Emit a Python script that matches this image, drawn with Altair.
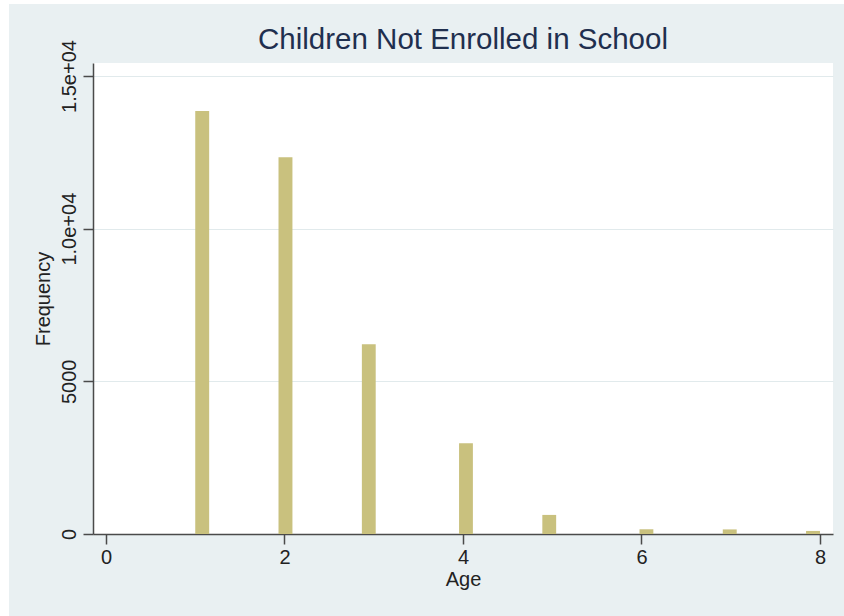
import altair as alt
import pandas as pd

# Histogram bins (45 bins over ages 1..8; only non-empty bins listed)
bin_lo = [1.000, 1.933, 2.867, 3.956, 4.889, 5.978, 6.911, 7.844]
bin_hi = [1.156, 2.089, 3.022, 4.111, 5.044, 6.133, 7.067, 8.000]
counts = [13850, 12340, 6215, 2970, 625, 155, 150, 100]

x_ticks = [0, 2, 4, 6, 8]
y_ticks = [0, 5000, 10000, 15000]
y_tick_labels = ["0", "5000", "1.0e+04", "1.5e+04"]

df = pd.DataFrame({"lo": bin_lo, "hi": bin_hi, "n": counts})

BG = "#e9f0f2"
BAR = "#c9c17e"
AXIS = "#4a4a4a"
FONT = "Liberation Sans"

W, H = 740, 471
PAD = {"left": 93, "top": 63, "right": 11, "bottom": 82}

y_label_expr = " : ".join(
    f"datum.value == {v} ? '{t}'" for v, t in zip(y_ticks, y_tick_labels)
) + " : ''"

x_scale = alt.Scale(domain=[-0.1457, 8.146], nice=False, zero=False)
y_scale = alt.Scale(domain=[0, 15426], nice=False)

bars = alt.Chart(df).mark_rect(color=BAR).encode(
    x=alt.X(
        "lo:Q",
        scale=x_scale,
        title="Age",
        axis=alt.Axis(
            values=x_ticks,
            grid=False,
            domainColor=AXIS,
            domainWidth=1.5,
            tickColor=AXIS,
            tickWidth=1.5,
            tickSize=10,
            labelFontSize=20,
            labelPadding=3,
            labelColor="#222222",
            labelFont=FONT,
            titleFont=FONT,
            titleFontSize=20,
            titleFontWeight="normal",
            titleColor="#222222",
            titlePadding=2,
        ),
    ),
    x2="hi:Q",
    y=alt.Y(
        "n:Q",
        scale=y_scale,
        title="Frequency",
        axis=alt.Axis(
            values=y_ticks,
            labelExpr=y_label_expr,
            grid=True,
            gridColor="#e1eaec",
            gridWidth=1.2,
            domainColor=AXIS,
            domainWidth=1.5,
            tickColor=AXIS,
            tickWidth=1.5,
            tickSize=10,
            labelAngle=270,
            labelAlign="center",
            labelBaseline="alphabetic",
            labelFontSize=20,
            labelPadding=8,
            labelColor="#222222",
            labelFont=FONT,
            titleFont=FONT,
            titleFontSize=20,
            titleFontWeight="normal",
            titleColor="#222222",
            titlePadding=6,
        ),
    ),
    y2=alt.datum(0),
)

# white page margin strips along the left and top edges
margin_left = alt.Chart(df).mark_rect(color="white", clip=False).encode(
    x=alt.value(-PAD["left"]), x2=alt.value(-84),
    y=alt.value(-PAD["top"]), y2=alt.value(H + PAD["bottom"]),
)
margin_top = alt.Chart(df).mark_rect(color="white", clip=False).encode(
    x=alt.value(-PAD["left"]), x2=alt.value(W + PAD["right"]),
    y=alt.value(-PAD["top"]), y2=alt.value(-59),
)

chart = (
    alt.layer(bars, margin_left, margin_top)
    .properties(
        width=W,
        height=H,
        padding=PAD,
        autosize=alt.AutoSizeParams(type="none"),
        background=BG,
        title=alt.Title(
            "Children Not Enrolled in School",
            font=FONT,
            fontSize=29.5,
            fontWeight="normal",
            color="#1f2f4f",
            anchor="middle",
            frame="group",
            baseline="alphabetic",
            offset=0,
            dy=78,
        ),
    )
    .configure_view(fill="white", stroke=None)
)

chart.save("out.html", embed_options={"renderer": "svg", "actions": False})
